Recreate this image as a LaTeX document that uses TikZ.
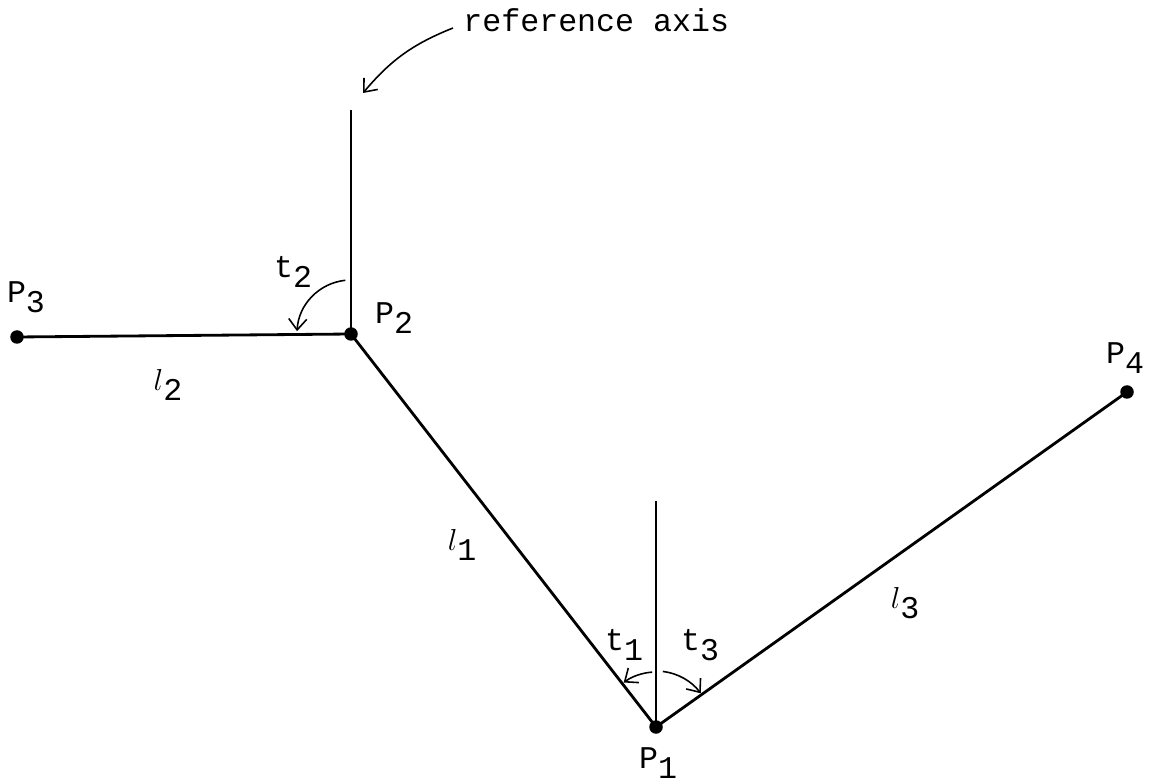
\documentclass[tikz,border=0pt]{standalone}
\usepackage{fontspec}
\setmainfont{Liberation Mono}
\usetikzlibrary{arrows.meta,positioning}
\newcommand{\lsub}[1]{\raisebox{-0.33em}{#1}}

\begin{document}
\begin{tikzpicture}[
  pt/.style={circle,fill=black,inner sep=0pt,minimum size=0.27cm},
  seg/.style={line width=1.6pt},
  refline/.style={line width=0.8pt},
  anglearrow/.style={line width=0.9pt,-{Straight Barb[length=2.2mm,width=3.6mm]}},
  lbl/.style={inner sep=0pt,font=\fontsize{18}{20}\selectfont}
]
  \useasboundingbox (0,0) rectangle (22.98,15.64);
  % points
  \node[pt] (p1) at (13.12,1.10) {};
  \node[pt] (p2) at (7.02,8.96) {};
  \node[pt] (p3) at (0.34,8.90) {};
  \node[pt] (p4) at (22.54,7.80) {};
  \coordinate (ax2) at (7.02,13.44);
  \coordinate (ax1) at (13.12,5.62);
  % segments
  \foreach \a/\b in {p3/p2, p2/p1, p1/p4} {
    \draw[seg] (\a.center) -- (\b.center);
  }
  % reference axes
  \draw[refline] (p2.center) -- (ax2);
  \draw[refline] (p1.center) -- (ax1);
  % labels
  \node[lbl] (lp1) at (13.16,0.38) {P\lsub{1}};
  \node[lbl] (lp2) at (7.88,9.28) {P\lsub{2}};
  \node[lbl] (lp3) at (0.52,9.70) {P\lsub{3}};
  \node[lbl] (lp4) at (22.50,8.48) {P\lsub{4}};
  \node[lbl] (ll1) at (9.24,4.74) {$l$\lsub{1}};
  \node[lbl] (ll2) at (3.36,7.94) {$l$\lsub{2}};
  \node[lbl] (ll3) at (18.10,3.58) {$l$\lsub{3}};
  \node[lbl] (lt1) at (12.48,2.74) {t\lsub{1}};
  \node[lbl] (lt2) at (5.86,10.20) {t\lsub{2}};
  \node[lbl] (lt3) at (14.00,2.74) {t\lsub{3}};
  \node[lbl,anchor=base west] (lref) at (9.26,15.00) {reference axis};
  % angle arrows
  \draw[anglearrow] ([xshift=-0.2cm,yshift=0.08cm]lref.base west) to[bend right=14] ([xshift=0.24cm,yshift=0.34cm]ax2);
  \draw[anglearrow] ([shift={(96:1.08)}]p2.center) arc (96:177:1.08);
  \draw[anglearrow] ([shift={(94:1.1)}]p1.center) arc (94:126:1.1);
  \draw[anglearrow] ([shift={(83:1.12)}]p1.center) arc (83:37:1.12);
\end{tikzpicture}
\end{document}
